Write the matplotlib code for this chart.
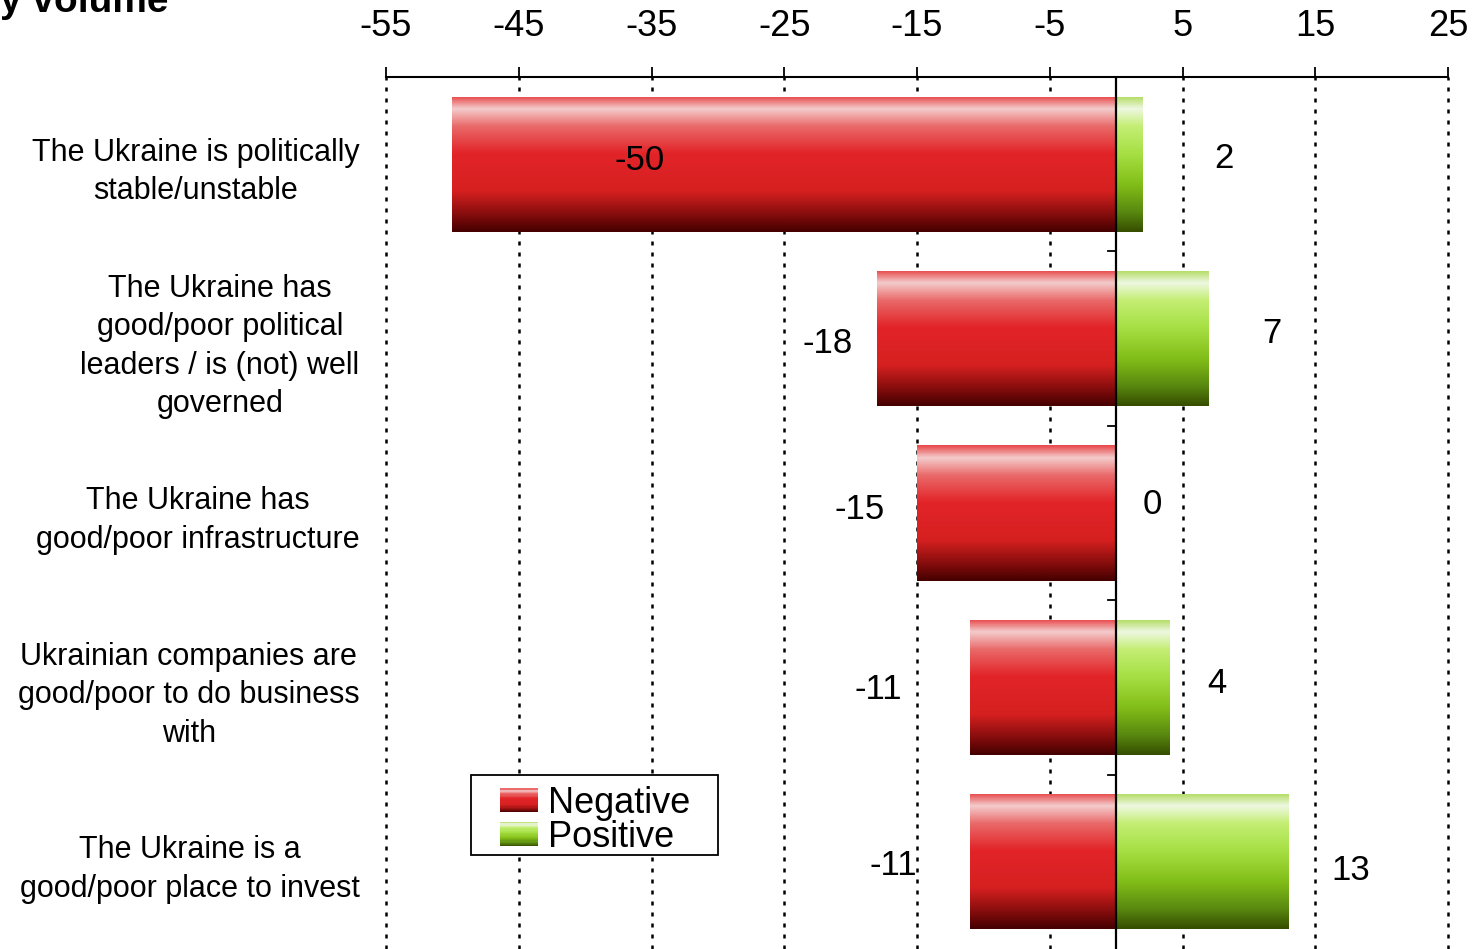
import matplotlib
matplotlib.use("Agg")
import matplotlib.pyplot as plt
import numpy as np
from matplotlib.colors import LinearSegmentedColormap
from matplotlib.patches import Rectangle
from matplotlib.path import Path
from matplotlib.legend_handler import HandlerBase

plt.rcParams['font.family'] = ['Liberation Sans', 'DejaVu Sans']

categories = [
    "The Ukraine is politically\nstable/unstable",
    "The Ukraine has\ngood/poor political\nleaders / is (not) well\ngoverned",
    "The Ukraine has\ngood/poor infrastructure",
    "Ukrainian companies are\ngood/poor to do business\nwith",
    "The Ukraine is a\ngood/poor place to invest",
]
negative = [-50, -18, -15, -11, -11]
positive = [2, 7, 0, 4, 13]
xticks = list(range(-55, 26, 10))

# where the value labels sit (data x), and small vertical nudges
neg_label_x = [-35.9, -21.7, -19.3, -17.9, -16.8]
pos_label_x = [8.1, 11.7, 2.7, 7.6, 17.7]
neg_label_dy = [-0.02, 0.03, -0.02, 0.01, 0.02]
pos_label_dy = [-0.03, -0.03, -0.05, -0.02, 0.05]

red_stops = [(0.0, '#e84a4c'), (0.09, '#f4cccc'), (0.22, '#ea6a6a'),
             (0.42, '#e22428'), (0.7, '#d62020'), (0.86, '#8c0e0e'), (1.0, '#460000')]
green_stops = [(0.0, '#b2dc62'), (0.09, '#eef8e2'), (0.22, '#c4ee74'),
               (0.42, '#a6e044'), (0.65, '#82be18'), (0.85, '#5a8a10'), (1.0, '#364e00')]
red_cmap = LinearSegmentedColormap.from_list('red3d', red_stops)
green_cmap = LinearSegmentedColormap.from_list('green3d', green_stops)
grad = np.linspace(0, 1, 200).reshape(-1, 1)


class GradientHandler(HandlerBase):
    def __init__(self, cmap):
        super().__init__()
        self.cmap = cmap

    def create_artists(self, legend, orig, xdescent, ydescent, width, height, fontsize, trans):
        n = 20
        out = []
        for i in range(n):
            c = self.cmap(1 - (i + 0.5) / n)
            r = Rectangle((-xdescent, -ydescent + height * i / n), width, height / n + 0.3,
                          facecolor=c, edgecolor='none', transform=trans)
            out.append(r)
        return out


def legend_box(x0, y0, width, height, mutation_scale):
    # wider padding left/right than top/bottom, like the original legend
    ph = 0.8 * mutation_scale
    xa, xb = x0 - ph, x0 + width + ph * 0.95
    ya, yb = y0, y0 + height + 0.3 * mutation_scale
    return Path([(xa, ya), (xb, ya), (xb, yb), (xa, yb), (xa, ya)], closed=True)


fig = plt.figure(figsize=(14.72, 9.49), dpi=100)
ax = fig.add_axes([386 / 1472, 0, 1062 / 1472, 872 / 949])

y = np.arange(len(categories))
bar_h = 0.775
neg_bars = ax.barh(y, negative, height=bar_h, color='none', edgecolor='none', label='Negative')
pos_bars = ax.barh(y, positive, height=bar_h, color='none', edgecolor='none', label='Positive')

for bars, cmap in [(neg_bars, red_cmap), (pos_bars, green_cmap)]:
    for b in bars:
        if b.get_width() == 0:
            continue
        x0 = min(b.get_x(), b.get_x() + b.get_width())
        x1 = max(b.get_x(), b.get_x() + b.get_width())
        y0 = b.get_y()
        im = ax.imshow(grad, cmap=cmap, aspect='auto', origin='upper',
                       extent=(x0, x1, y0 + b.get_height(), y0), zorder=2, interpolation='bilinear')
        im.set_clip_path(b)

ax.set_xlim(-55, 25)
ax.set_ylim(len(categories) - 0.5, -0.5)

ax.axvline(0, color='black', lw=1.6, zorder=4)
for yb in np.arange(0.5, len(categories) - 0.5, 1):
    ax.plot([-0.6, 0], [yb, yb], color='black', lw=1.3, zorder=4)

ax.xaxis.tick_top()
ax.set_xticks(xticks)
ax.set_xticklabels([str(t) for t in xticks])
ax.tick_params(axis='x', which='both', length=7.5, width=1.3, pad=16.5, labelsize=26, color='black')
ax.grid(axis='x', color='black', linestyle=(0, (1.6, 2.8)), linewidth=1.8, zorder=1)
for gl in ax.get_xgridlines():
    gl.set_clip_on(False)
ax.set_axisbelow(True)

ax.set_yticks(y)
ax.set_yticklabels(categories, fontsize=22)
for lab in ax.get_yticklabels():
    lab.set_multialignment('center')
    lab.set_linespacing(1.37)
ax.tick_params(axis='y', length=0, pad=19)

for s in ['left', 'right', 'bottom']:
    ax.spines[s].set_visible(False)
ax.spines['top'].set_linewidth(1.5)

for i in range(len(categories)):
    ax.text(neg_label_x[i], y[i] + neg_label_dy[i], str(negative[i]), ha='center', va='center',
            fontsize=25, zorder=5)
    ax.text(pos_label_x[i], y[i] + pos_label_dy[i], str(positive[i]), ha='center', va='center',
            fontsize=25, zorder=5)

leg = ax.legend(handler_map={neg_bars: GradientHandler(red_cmap), pos_bars: GradientHandler(green_cmap)},
                loc='lower left', bbox_to_anchor=((500 - 386) / 1062, (949 - 855) / 872), borderaxespad=0,
                fontsize=26, frameon=True, fancybox=False, shadow=False, framealpha=1,
                edgecolor='black', handlelength=1.05, handleheight=0.65, handletextpad=0.28,
                labelspacing=-0.03, borderpad=0)
leg.get_frame().set_boxstyle(legend_box)
leg.get_frame().set_linewidth(1.3)
leg.set_zorder(6)

fig.text(0.0, 1 - 12 / 949, 'y volume', fontsize=28, fontweight='bold', ha='left', va='baseline')

fig.savefig('out.png', dpi=100)
